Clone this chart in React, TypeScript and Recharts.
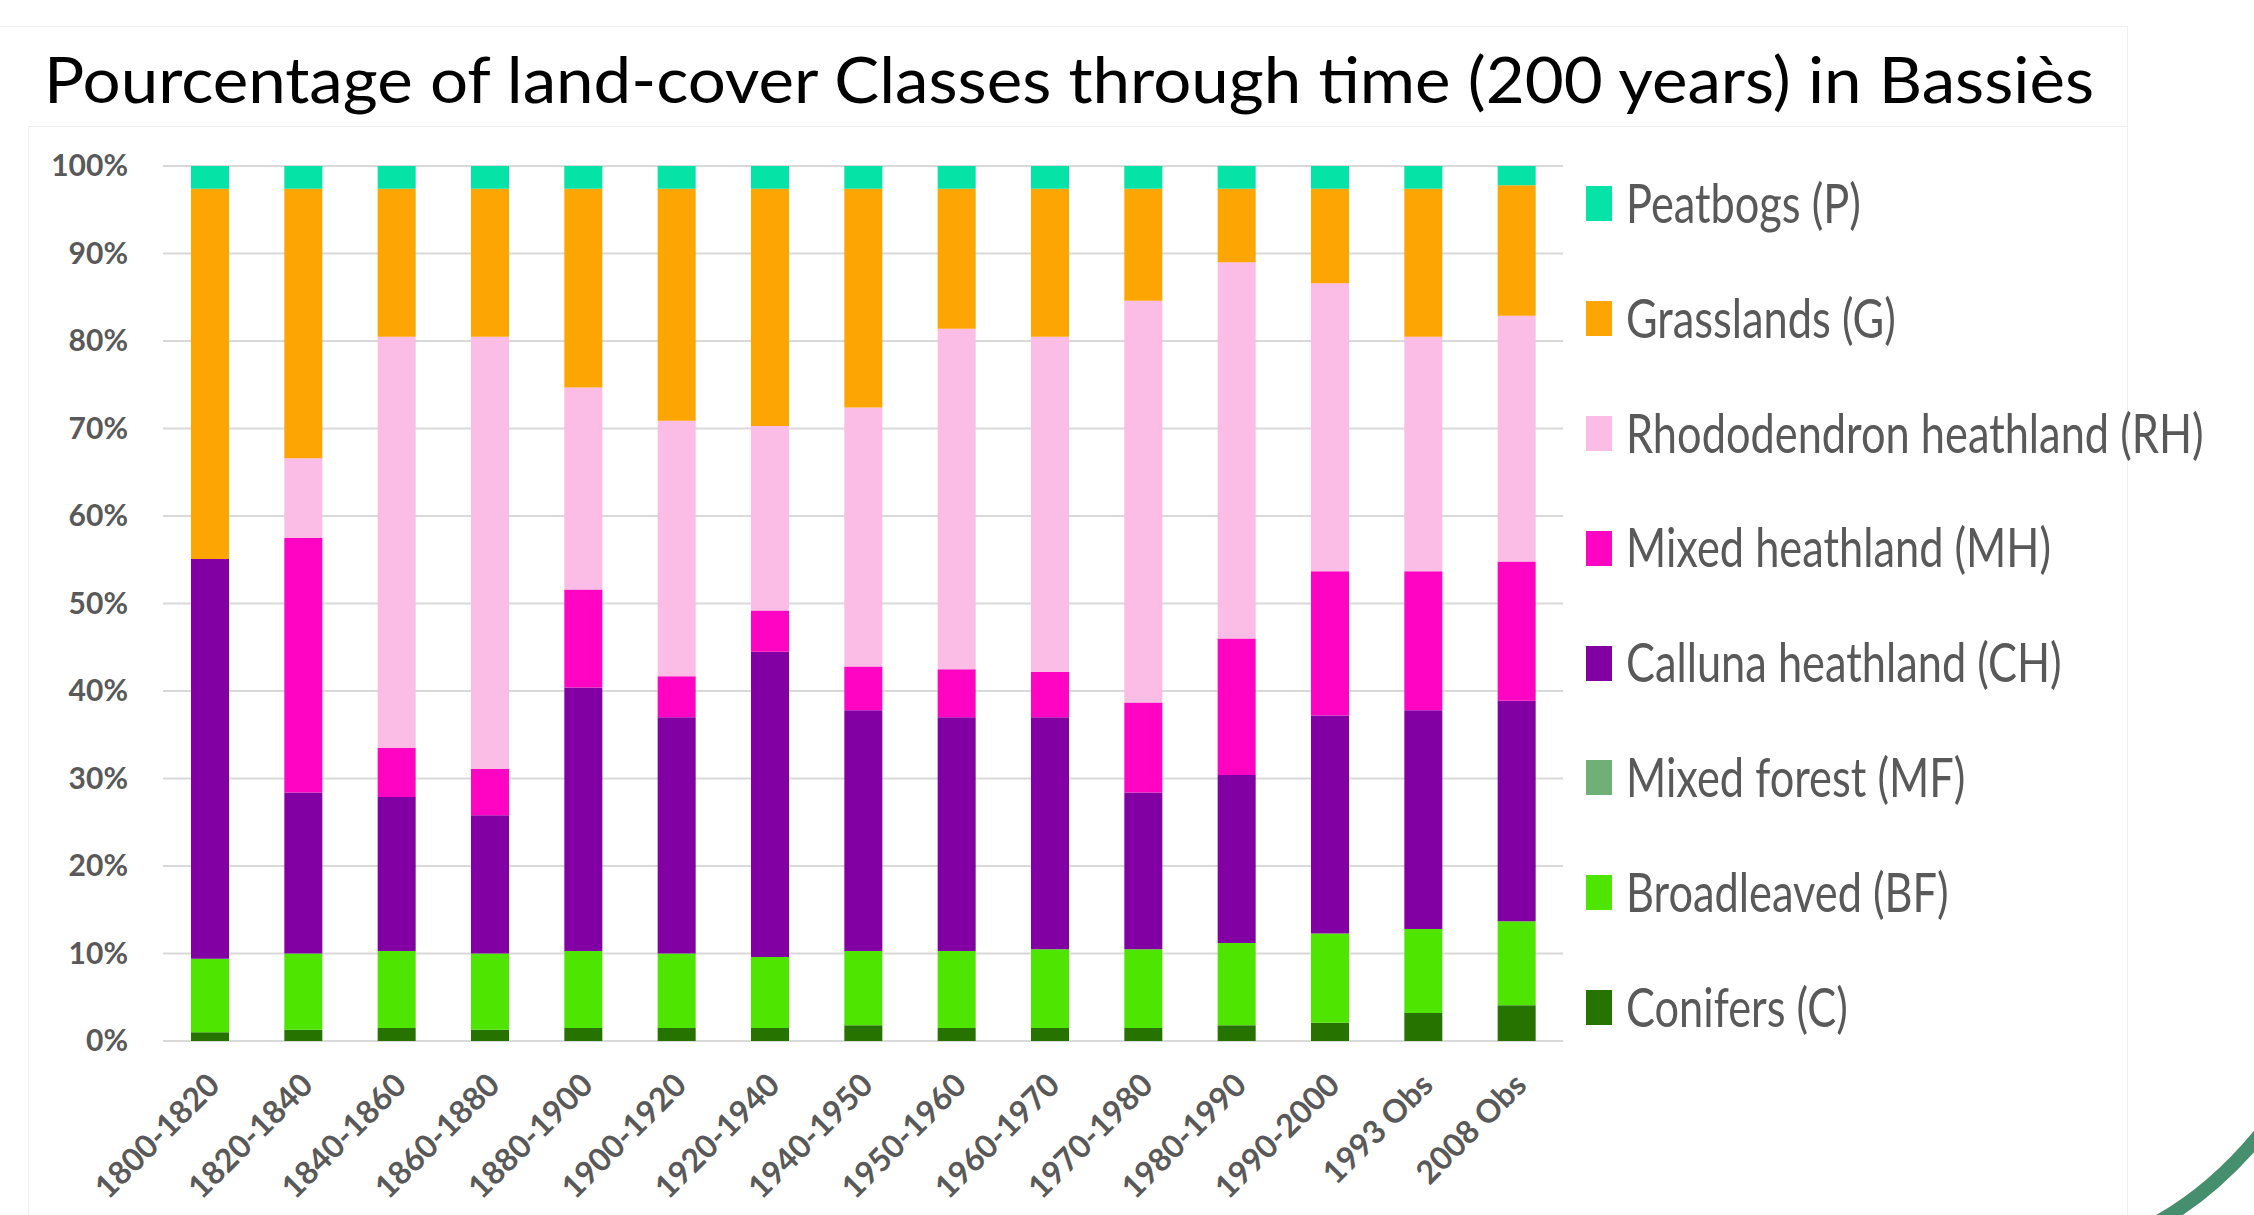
import { BarChart, Bar, XAxis, YAxis, CartesianGrid } from 'recharts';

// Periods on the x axis
const CATEGORIES = [
  '1800-1820', '1820-1840', '1840-1860', '1860-1880', '1880-1900',
  '1900-1920', '1920-1940', '1940-1950', '1950-1960', '1960-1970',
  '1970-1980', '1980-1990', '1990-2000', '1993 Obs', '2008 Obs',
];

// Share of each land-cover class (%), bottom of the stack first
const CONIFERS = [1.0, 1.3, 1.5, 1.3, 1.5, 1.5, 1.5, 1.8, 1.5, 1.5, 1.5, 1.8, 2.1, 3.2, 4.1];
const BROADLEAVED = [8.4, 8.7, 8.8, 8.7, 8.8, 8.5, 8.1, 8.5, 8.8, 9.0, 9.0, 9.4, 10.2, 9.6, 9.6];
const MIXED_FOREST = [0, 0, 0, 0, 0, 0, 0, 0, 0, 0, 0, 0, 0, 0, 0];
const CALLUNA = [45.7, 18.4, 17.6, 15.8, 30.1, 27.0, 34.9, 27.5, 26.7, 26.5, 17.9, 19.2, 24.9, 25.0, 25.2];
const MIXED_HEATH = [0, 29.1, 5.6, 5.3, 11.2, 4.7, 4.7, 5.0, 5.5, 5.2, 10.3, 15.6, 16.5, 15.9, 15.9];
const RHODODENDRON = [0, 9.1, 47.0, 49.4, 23.1, 29.2, 21.1, 29.6, 38.9, 38.3, 45.9, 43.0, 32.9, 26.8, 28.1];
const GRASSLANDS = [42.3, 30.8, 16.9, 16.9, 22.7, 26.5, 27.1, 25.0, 16.0, 16.9, 12.8, 8.4, 10.8, 16.9, 14.9];
const PEATBOGS = [2.6, 2.6, 2.6, 2.6, 2.6, 2.6, 2.6, 2.6, 2.6, 2.6, 2.6, 2.6, 2.6, 2.6, 2.2];

const Y_TICKS = [0, 10, 20, 30, 40, 50, 60, 70, 80, 90, 100];

// stack order (bottom -> top)
const SERIES = [
  { key: 'C', name: 'Conifers (C)', color: '#267300', values: CONIFERS },
  { key: 'BF', name: 'Broadleaved (BF)', color: '#4ee500', values: BROADLEAVED },
  { key: 'MF', name: 'Mixed forest (MF)', color: '#70b077', values: MIXED_FOREST },
  { key: 'CH', name: 'Calluna heathland (CH)', color: '#8200a3', values: CALLUNA },
  { key: 'MH', name: 'Mixed heathland (MH)', color: '#ff05c3', values: MIXED_HEATH },
  { key: 'RH', name: 'Rhododendron heathland (RH)', color: '#fbbce6', values: RHODODENDRON },
  { key: 'G', name: 'Grasslands (G)', color: '#fca503', values: GRASSLANDS },
  { key: 'P', name: 'Peatbogs (P)', color: '#05e3a6', values: PEATBOGS },
];

const data = CATEGORIES.map((cat, i) => {
  const row: Record<string, number | string> = { period: cat };
  SERIES.forEach((s) => {
    row[s.key] = s.values[i];
  });
  return row;
});

const GREY = '#595959';

function YTick({ x, y, payload }: any) {
  return (
    <text
      x={x}
      y={y + 10}
      textAnchor="end"
      fill={GREY}
      fontSize={30}
      fontWeight={700}
      fontFamily="Lato"
    >
      {`${payload.value}%`}
    </text>
  );
}

function XTick({ x, y, payload }: any) {
  return (
    <g transform={`translate(${x + 12},${y + 46}) rotate(-45)`}>
      <text textAnchor="end" fill={GREY} fontSize={32} fontWeight={700} fontFamily="Lato">
        {payload.value}
      </text>
    </g>
  );
}

export default function App() {
  const legendItems = [...SERIES].reverse();
  return (
    <div
      style={{
        position: 'absolute',
        left: 0,
        top: 0,
        width: 2254,
        height: 1215,
        background: '#fff',
        overflow: 'hidden',
        fontFamily: 'Lato',
      }}
    >
      {/* faint chart frame */}
      <div
        style={{
          position: 'absolute',
          left: 0,
          top: 26,
          width: 2127,
          height: 1300,
          borderTop: '1px solid #f0f0f0',
          borderRight: '1px solid #f0f0f0',
        }}
      />
      <div
        style={{
          position: 'absolute',
          left: 28,
          top: 126,
          width: 2099,
          height: 1200,
          borderTop: '1px solid #eeeeee',
          borderLeft: '1px solid #eeeeee',
        }}
      />

      <svg width={2254} height={130} style={{ position: 'absolute', left: 0, top: 0 }}>
        <g transform="translate(44,103) scale(1,1.27)">
          <text
            x={0}
            y={0}
            fontSize={50}
            fontFamily="Lato"
            fill="#000"
            textLength={2050}
            lengthAdjust="spacingAndGlyphs"
          >
            Pourcentage of land-cover Classes through time (200 years) in Bassiès
          </text>
        </g>
      </svg>

      <div style={{ position: 'absolute', left: 0, top: 0 }}>
        <BarChart
          width={2254}
          height={1215}
          data={data}
          margin={{ top: 166, right: 691, bottom: 0, left: 0 }}
          barSize={38}
        >
          <CartesianGrid vertical={false} stroke="#d9d9d9" strokeWidth={2} />
          <XAxis
            dataKey="period"
            axisLine={false}
            tickLine={false}
            tickSize={0}
            tickMargin={0}
            height={174}
            interval={0}
            tick={<XTick />}
          />
          <YAxis
            domain={[0, 100]}
            ticks={Y_TICKS}
            axisLine={false}
            tickLine={false}
            tickSize={0}
            tickMargin={35}
            width={163}
            interval={0}
            tick={<YTick />}
          />
          {SERIES.map((s) => (
            <Bar
              key={s.key}
              dataKey={s.key}
              name={s.name}
              stackId="lc"
              fill={s.color}
              isAnimationActive={false}
            />
          ))}
        </BarChart>
      </div>

      {/* legend */}
      <div style={{ position: 'absolute', left: 1586, top: 145 }}>
        {legendItems.map((s) => (
          <div
            key={s.key}
            style={{ height: 114.8, display: 'flex', alignItems: 'center' }}
          >
            <div style={{ width: 26, height: 35, background: s.color, flex: 'none', marginTop: 3 }} />
            <span
              style={{
                marginLeft: 14,
                fontSize: 44,
                color: GREY,
                whiteSpace: 'nowrap',
                display: 'inline-block',
                transform: 'scale(0.985,1.24)',
                transformOrigin: 'left center',
                lineHeight: 1.2,
              }}
            >
              {s.name}
            </span>
          </div>
        ))}
      </div>

      {/* decorative arc, bottom right */}
      <svg width={2254} height={1215} style={{ position: 'absolute', left: 0, top: 0, pointerEvents: 'none' }}>
        <path d="M 2158 1222 Q 2215 1190 2262 1132" stroke="#468f6e" strokeWidth={14} fill="none" />
      </svg>
    </div>
  );
}
